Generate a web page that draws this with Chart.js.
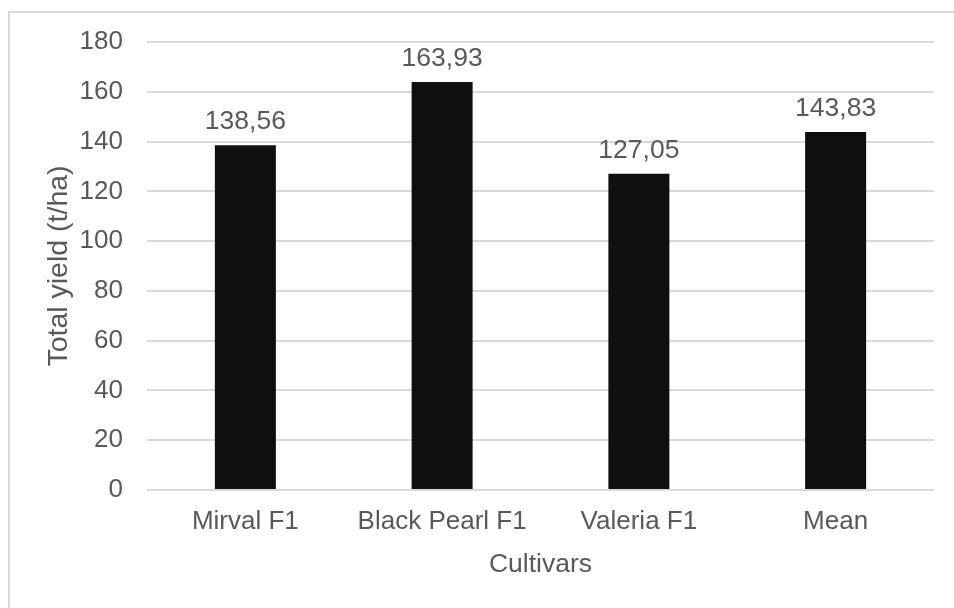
<!DOCTYPE html>
<html>
<head>
<meta charset="utf-8">
<script src="https://cdn.jsdelivr.net/npm/chart.js@4.4.1/dist/chart.umd.min.js"></script>
<style>
  html, body { margin: 0; padding: 0; background: #ffffff; }
  #wrap { position: relative; width: 954px; height: 608px; }
  #frame {
    position: absolute; left: 8px; top: 11px; right: 0; bottom: 0;
    border-left: 2px solid #d9d9d9; border-top: 2px solid #d9d9d9;
    pointer-events: none;
  }
  canvas { position: absolute; left: 0; top: 0; }
</style>
</head>
<body>
<div id="wrap">
  <canvas id="chart" width="954" height="608"></canvas>
  <div id="frame"></div>
</div>
<script>
// Cultivars and total yield (t/ha)
const categories = ['Mirval F1', 'Black Pearl F1', 'Valeria F1', 'Mean'];
const yields = [138.56, 163.93, 127.05, 143.83];
const valueLabels = ['138,56', '163,93', '127,05', '143,83'];

const TEXT = '#595959';
const GRID = '#d9d9d9';
const FONT = '"Liberation Sans", Arial, sans-serif';

// Draws the value labels above each bar, from the bar elements' own positions
const valueLabelPlugin = {
  id: 'valueLabels',
  afterDatasetsDraw(chart) {
    const { ctx } = chart;
    const meta = chart.getDatasetMeta(0);
    ctx.save();
    ctx.fillStyle = TEXT;
    ctx.font = '26.5px ' + FONT;
    ctx.textAlign = 'center';
    ctx.textBaseline = 'alphabetic';
    meta.data.forEach((bar, i) => {
      ctx.fillText(valueLabels[i], bar.x, bar.y - 16);
    });
    ctx.restore();
  }
};

new Chart(document.getElementById('chart'), {
  type: 'bar',
  data: {
    labels: categories,
    datasets: [{
      data: yields,
      backgroundColor: '#0f0f0f',
      borderWidth: 0,
      categoryPercentage: 1,
      barPercentage: 0.31
    }]
  },
  options: {
    responsive: false,
    animation: false,
    devicePixelRatio: 1,
    layout: { padding: { left: 0, top: 42, right: 20, bottom: 0 } },
    plugins: {
      legend: { display: false },
      tooltip: { enabled: false }
    },
    scales: {
      x: {
        afterFit(scale) { scale.height = 118; },
        grid: { display: false, drawTicks: false },
        border: { display: false },
        ticks: {
          color: TEXT,
          font: { family: FONT, size: 26 },
          padding: 16,
          maxRotation: 0
        },
        title: {
          display: true,
          text: 'Cultivars',
          color: TEXT,
          font: { family: FONT, size: 26.5 },
          padding: { top: 0, bottom: 27 }
        }
      },
      y: {
        min: 0,
        max: 180,
        afterFit(scale) { scale.width = 147; },
        grid: { color: GRID, lineWidth: 2, drawTicks: false },
        border: { display: false },
        ticks: {
          stepSize: 20,
          color: TEXT,
          font: { family: FONT, size: 26 },
          padding: 24
        },
        title: {
          display: true,
          text: 'Total yield (t/ha)',
          color: TEXT,
          font: { family: FONT, size: 28.5 },
          padding: { top: 42, bottom: 0 }
        }
      }
    }
  },
  plugins: [valueLabelPlugin]
});
</script>
</body>
</html>
